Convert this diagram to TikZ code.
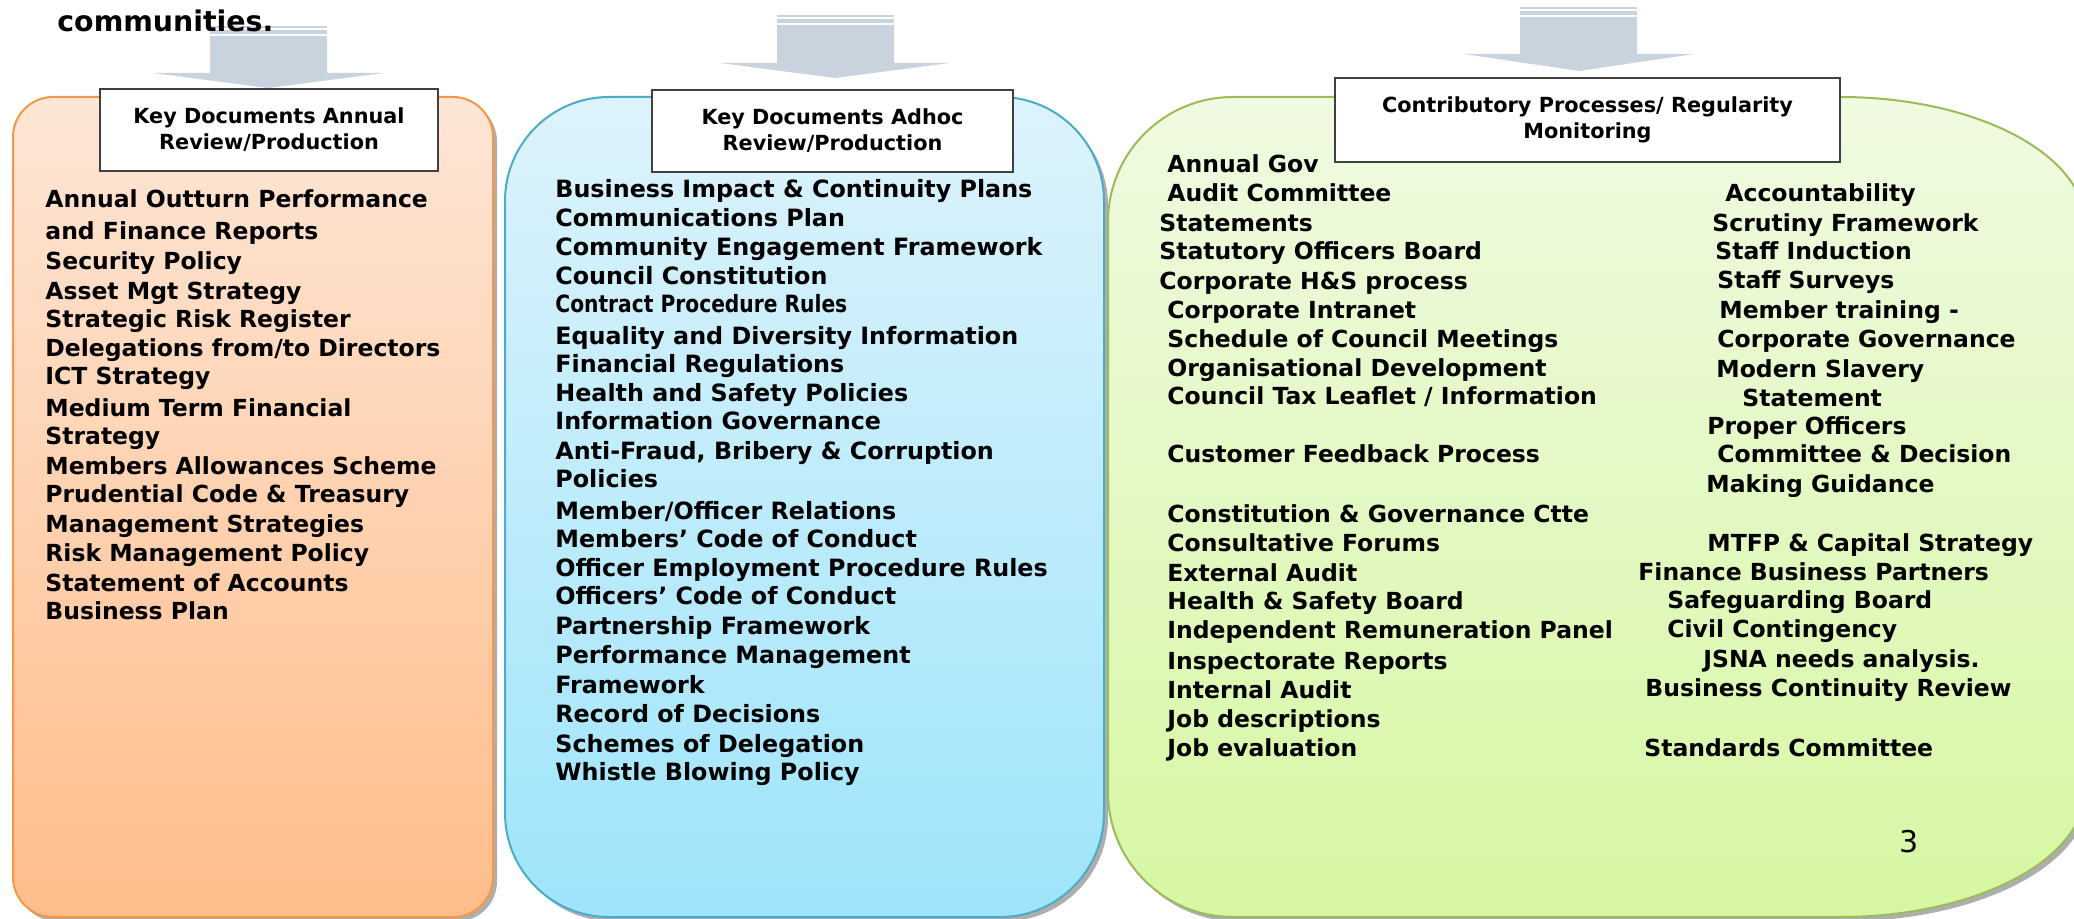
\documentclass[tikz,border=0pt]{standalone}
\usepackage{fontspec}
\setmainfont{DejaVu Sans}
\newfontfamily\vfont{DejaVu Sans}
\newfontfamily\cfont{DejaVu Sans}[FakeStretch=0.85]
\definecolor{orangeedge}{HTML}{F79646}
\definecolor{orangetop}{HTML}{FDE6D6}
\definecolor{orangebot}{HTML}{FFBD8A}
\definecolor{blueedge}{HTML}{4BACC6}
\definecolor{bluetop}{HTML}{DDF3FB}
\definecolor{bluebot}{HTML}{9EE4FB}
\definecolor{greenedge}{HTML}{9BBB59}
\definecolor{greentop}{HTML}{F0FAE2}
\definecolor{greenbot}{HTML}{D6F7A2}
\definecolor{arrowgrey}{HTML}{C8D3DE}
\definecolor{shadowgrey}{HTML}{9A9A9A}
\tikzset{
  panelshadow/.style={fill=shadowgrey, fill opacity=0.8, xshift=2pt, yshift=-2.2pt},
  blockarrow/.style={fill=arrowgrey},
  header/.style={draw=black!75, line width=0.8pt, fill=white, align=center,
    inner sep=2pt, font=\vfont\bfseries\fontsize{10.4}{13}\selectfont},
  vline/.style={anchor=base west, inner sep=0pt, font=\vfont\bfseries\fontsize{11.75}{13}\selectfont},
  tline/.style={anchor=base west, inner sep=0pt, font=\vfont\bfseries\fontsize{11.9}{13}\selectfont},
  cline/.style={anchor=base west, inner sep=0pt, font=\cfont\bfseries\fontsize{11.9}{13}\selectfont},
}
\begin{document}
\begin{tikzpicture}[x=0.5pt, y=-0.5pt]
\useasboundingbox (0,0) rectangle (2074,919);
\begin{scope}
\clip (0,0) rectangle (2074,919);

% ---- block arrows feeding the three panels ----
\fill[blockarrow] (210,26) rectangle (327,28.5);
\fill[blockarrow] (210,30) rectangle (327,34);
\fill[blockarrow] (210,36) -- (327,36) -- (327,73) -- (384,73) -- (268,88) -- (153,73) -- (210,73) -- cycle;

\fill[blockarrow] (777,15) rectangle (894,17);
\fill[blockarrow] (777,19) rectangle (894,23);
\fill[blockarrow] (777,25) -- (894,25) -- (894,63) -- (950,63) -- (835,78) -- (720,63) -- (777,63) -- cycle;

\fill[blockarrow] (1520,7) rectangle (1637,9);
\fill[blockarrow] (1520,11) rectangle (1637,15);
\fill[blockarrow] (1520,17) -- (1637,17) -- (1637,54) -- (1694,54) -- (1579,71) -- (1464,54) -- (1520,54) -- cycle;

% ---- annual documents panel ----
\fill[panelshadow, rounded corners=20pt] (13,97) rectangle (493,917);
\draw[orangeedge, line width=1pt, top color=orangetop, bottom color=orangebot, rounded corners=20pt]
  (13,97) rectangle (493,917);

% ---- ad hoc documents panel ----
\fill[panelshadow, rounded corners=52pt] (505,97) rectangle (1104,917);
\draw[blueedge, line width=1pt, top color=bluetop, bottom color=bluebot, rounded corners=52pt]
  (505,97) rectangle (1104,917);

% ---- contributory processes panel ----
\def\greenpanel{(1108,222) arc[start angle=180, end angle=270, x radius=125, y radius=125]
  -- (1840,97) arc[start angle=270, end angle=360, x radius=245, y radius=127]
  -- (2085,790) arc[start angle=0, end angle=90, x radius=245, y radius=127]
  -- (1233,917) arc[start angle=90, end angle=180, x radius=125, y radius=125] -- cycle}
\fill[panelshadow] \greenpanel;
\draw[greenedge, line width=1pt, top color=greentop, bottom color=greenbot] \greenpanel;
\end{scope}

% ---- panel headings ----
\node[header, minimum width=169pt, minimum height=41pt] (hannual) at (269,130)
  {Key Documents Annual\\Review/Production};
\node[header, minimum width=180.5pt, minimum height=41pt] (hadhoc) at (832.5,131)
  {Key Documents Adhoc\\Review/Production};
\node[header, minimum width=252.5pt, minimum height=42pt] (hcontrib) at (1587.5,120)
  {Contributory Processes/ Regularity\\Monitoring};

% ---- heading fragment above the panels ----
\node[anchor=base west, inner sep=0pt, font=\vfont\bfseries\fontsize{14.2}{16}\selectfont] (intro) at (57,32) {communities.};

% ---- annual documents list ----
\foreach \yy/\txt [count=\i] in {
  208/Annual Outturn Performance,
  240/and Finance Reports,
  270/Security Policy,
  300/Asset Mgt Strategy,
  328/Strategic Risk Register,
  357/{Delegations from/to Directors},
  385/ICT Strategy,
  417/Medium Term Financial,
  445/Strategy,
  475/Members Allowances Scheme,
  503/Prudential Code \& Treasury,
  533/Management Strategies,
  562/Risk Management Policy,
  592/Statement of Accounts,
  620/Business Plan}
  \node[vline] (annual\i) at (45,\yy) {\txt};

% ---- ad hoc documents list ----
\foreach \yy/\txt [count=\i] in {
  198/Business Impact \& Continuity Plans,
  227/Communications Plan,
  256/Community Engagement Framework,
  285/Council Constitution,
  345/Equality and Diversity Information,
  373/Financial Regulations,
  402/Health and Safety Policies,
  430/Information Governance,
  460/{Anti-Fraud, Bribery \& Corruption},
  488/Policies,
  520/{Member/Officer Relations},
  548/Members’ Code of Conduct,
  577/Officer Employment Procedure Rules,
  605/Officers’ Code of Conduct,
  635/Partnership Framework,
  663/Performance Management,
  693/Framework,
  722/Record of Decisions,
  752/Schemes of Delegation,
  780/Whistle Blowing Policy}
  \node[tline] (adhoc\i) at (555,\yy) {\txt};
\node[cline] (adhocrules) at (555,313) {Contract Procedure Rules};

% ---- contributory processes, first column ----
\foreach \xx/\yy/\txt [count=\i] in {
  1167/173/Annual Gov,
  1167/202/Audit Committee,
  1159/232/Statements,
  1159/260/Statutory Officers Board,
  1159/290/Corporate H\&S process,
  1167/319/Corporate Intranet,
  1167/348/Schedule of Council Meetings,
  1167/377/Organisational Development,
  1167/405/{Council Tax Leaflet / Information},
  1167/463/Customer Feedback Process,
  1167/523/Constitution \& Governance Ctte,
  1167/552/Consultative Forums,
  1167/582/External Audit,
  1167/610/Health \& Safety Board,
  1167/639/Independent Remuneration Panel,
  1167/669/Inspectorate Reports,
  1167/698/Internal Audit,
  1167/727/Job descriptions,
  1167/756/Job evaluation}
  \node[vline] (procA\i) at (\xx,\yy) {\txt};

% ---- contributory processes, second column ----
\foreach \xx/\yy/\txt [count=\i] in {
  1725/202/Accountability,
  1712/232/Scrutiny Framework,
  1715/260/Staff Induction,
  1717/289/Staff Surveys,
  1719/319/Member training -,
  1717/348/Corporate Governance,
  1716/378/Modern Slavery,
  1742/407/Statement,
  1707/435/Proper Officers,
  1717/463/Committee \& Decision,
  1706/493/Making Guidance,
  1707/552/MTFP \& Capital Strategy,
  1638/581/Finance Business Partners,
  1667/609/Safeguarding Board,
  1667/638/Civil Contingency,
  1703/668/JSNA needs analysis.,
  1645/697/Business Continuity Review,
  1644/756/Standards Committee}
  \node[vline] (procB\i) at (\xx,\yy) {\txt};

% ---- page number ----
\node[anchor=base, inner sep=0pt, font=\vfont\fontsize{15}{18}\selectfont] (pagenum) at (1909,852) {3};
\end{tikzpicture}
\end{document}
